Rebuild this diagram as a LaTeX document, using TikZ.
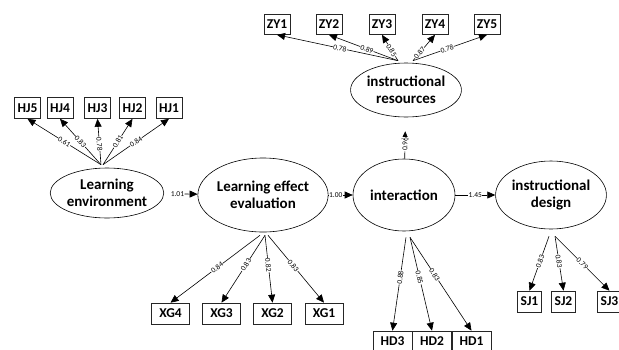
\documentclass[tikz,border=0pt]{standalone}
\usepackage{fontspec}
\setmainfont{Carlito}
\usetikzlibrary{shapes.geometric, arrows.meta}

\tikzset{
  latent/.style={ellipse, draw, line width=0.6pt, align=center, inner sep=0pt,
    font=\bfseries\fontsize{15}{17.5}\selectfont},
  item/.style={draw=black!85, line width=0.6pt, minimum height=21pt, inner xsep=3pt,
    font=\bfseries\fontsize{13.5}{13.5}\selectfont},
  wide/.style={item, minimum width=38pt},
  coef/.style={sloped, fill=white, inner sep=0.4pt, font=\fontsize{7.5}{7.5}\selectfont},
  load/.style={->, line width=0.6pt},
}

\begin{document}
\begin{tikzpicture}[x=1pt, y=-1pt, >={Triangle[length=8pt, width=7pt]}]
    \useasboundingbox (0,0) rectangle (619,349);

    % Latent factors
    \node[latent, minimum width=105pt, minimum height=50pt] (le) at (107,193) {Learning\\environment};
    \node[latent, minimum width=120pt, minimum height=74pt] (lee) at (263,195) {Learning effect\\evaluation};
    \node[latent, minimum width=102pt, minimum height=72pt] (int) at (404,195) {interaction};
    \node[latent, minimum width=103pt, minimum height=54pt] (res) at (406,90) {instructional\\resources};
    \node[latent, minimum width=104pt, minimum height=68pt] (des) at (551,195) {instructional\\design};

    % Indicators: learning environment
    \node[item] (hj5) at (27.5,108) {HJ5};
    \node[item] (hj4) at (60,108) {HJ4};
    \node[item] (hj3) at (97.5,108) {HJ3};
    \node[item] (hj2) at (132.5,108) {HJ2};
    \node[item] (hj1) at (169,108) {HJ1};

    % Indicators: instructional resources
    \node[item, minimum height=20pt] (zy1) at (277,24.5) {ZY1};
    \node[item, minimum height=20pt] (zy2) at (329,24.5) {ZY2};
    \node[item, minimum height=20pt] (zy3) at (382,24.5) {ZY3};
    \node[item, minimum height=20pt] (zy4) at (435,24.5) {ZY4};
    \node[item, minimum height=20pt] (zy5) at (487,24.5) {ZY5};

    % Indicators: learning effect evaluation
    \node[wide] (xg4) at (170.5,313.5) {XG4};
    \node[wide] (xg3) at (221.5,313.5) {XG3};
    \node[wide] (xg2) at (272.5,313.5) {XG2};
    \node[wide] (xg1) at (324,313.5) {XG1};

    % Indicators: interaction
    \node[wide, minimum width=39pt] (hd3) at (392.5,341.5) {HD3};
    \node[wide, minimum width=39pt] (hd2) at (432,341.5) {HD2};
    \node[wide, minimum width=39pt] (hd1) at (471.5,341.5) {HD1};

    % Indicators: instructional design
    \node[item] (sj1) at (529.5,301.5) {SJ1};
    \node[item] (sj2) at (563.5,301.5) {SJ2};
    \node[item] (sj3) at (609.5,301.5) {SJ3};

    % Loadings
    \coordinate (le-a) at ([xshift=-6pt, yshift=3pt]le.north);
    \coordinate (le-b) at ([xshift=-4pt, yshift=3pt]le.north);
    \draw[load] (le-a) -- node[coef] {0.61} (hj5.south);
    \draw[load] (le-a) -- node[coef] {0.83} (hj4.south);
    \draw[load] (le-a) -- node[coef, pos=.45] {0.78} (hj3.south);
    \draw[load] (le-b) -- node[coef] {0.81} (hj2.south);
    \draw[load] (le-b) -- node[coef] {0.84} (hj1.south);

    \coordinate (res-a) at ([xshift=-8pt, yshift=2pt]res.north);
    \coordinate (res-b) at ([xshift=7pt, yshift=2pt]res.north);
    \draw[load] (res-a) -- node[coef, pos=.48] {0.78} (zy1.south);
    \draw[load] (res-a) -- node[coef, pos=.45] {0.89} (zy2.south);
    \draw[load] (res-a) -- node[coef, pos=.4] {0.85} (zy3.south);
    \draw[load] (res-b) -- node[coef, pos=.3] {0.87} (zy4.south);
    \draw[load] (res-b) -- node[coef, pos=.46] {0.78} (zy5.south);

    \coordinate (lee-a) at ([xshift=-3pt, yshift=-3pt]lee.south);
    \coordinate (lee-b) at ([xshift=2pt, yshift=-3pt]lee.south);
    \coordinate (lee-c) at ([xshift=5pt, yshift=-3pt]lee.south);
    \draw[load] (lee-a) -- node[coef, pos=.48] {0.84} (xg4.north);
    \draw[load] (lee-b) -- node[coef, pos=.44] {0.83} (xg3.north);
    \draw[load] (lee-b) -- node[coef, pos=.44] {0.82} (xg2.north);
    \draw[load] (lee-c) -- node[coef, pos=.45] {0.83} (xg1.north);

    \coordinate (int-a) at ([xshift=2pt, yshift=-6pt]int.south);
    \coordinate (int-b) at ([xshift=6pt, yshift=-6pt]int.south);
    \draw[load] (int-a) -- node[coef, pos=.43] {0.88} (hd3.north);
    \draw[load] (int-b) -- node[coef, pos=.43] {0.85} (hd2.north);
    \draw[load] (int-b) -- node[coef, pos=.4] {0.83} (hd1.north);

    \coordinate (des-a) at ([xshift=-2pt, yshift=-7pt]des.south);
    \coordinate (des-b) at ([xshift=4pt, yshift=-7pt]des.south);
    \draw[load] (des-a) -- node[coef, pos=.46] {0.83} (sj1.north);
    \draw[load] (des-b) -- node[coef, pos=.46] {0.83} (sj2.north);
    \draw[load] (des-b) -- node[coef, pos=.5] {0.79} (sj3.north);

    % Structural paths
    \draw[load, shorten <=8pt] (le) -- node[coef, pos=.4] {1.01} (lee);
    \draw[load] (lee) -- node[coef, pos=.3] {1.00} (int);
    \draw[load] (int) -- node[coef] {1.45} (des);
    \draw[load, shorten >=14pt] (int) -- node[coef, pos=.35] {0.96} (res);
\end{tikzpicture}
\end{document}
